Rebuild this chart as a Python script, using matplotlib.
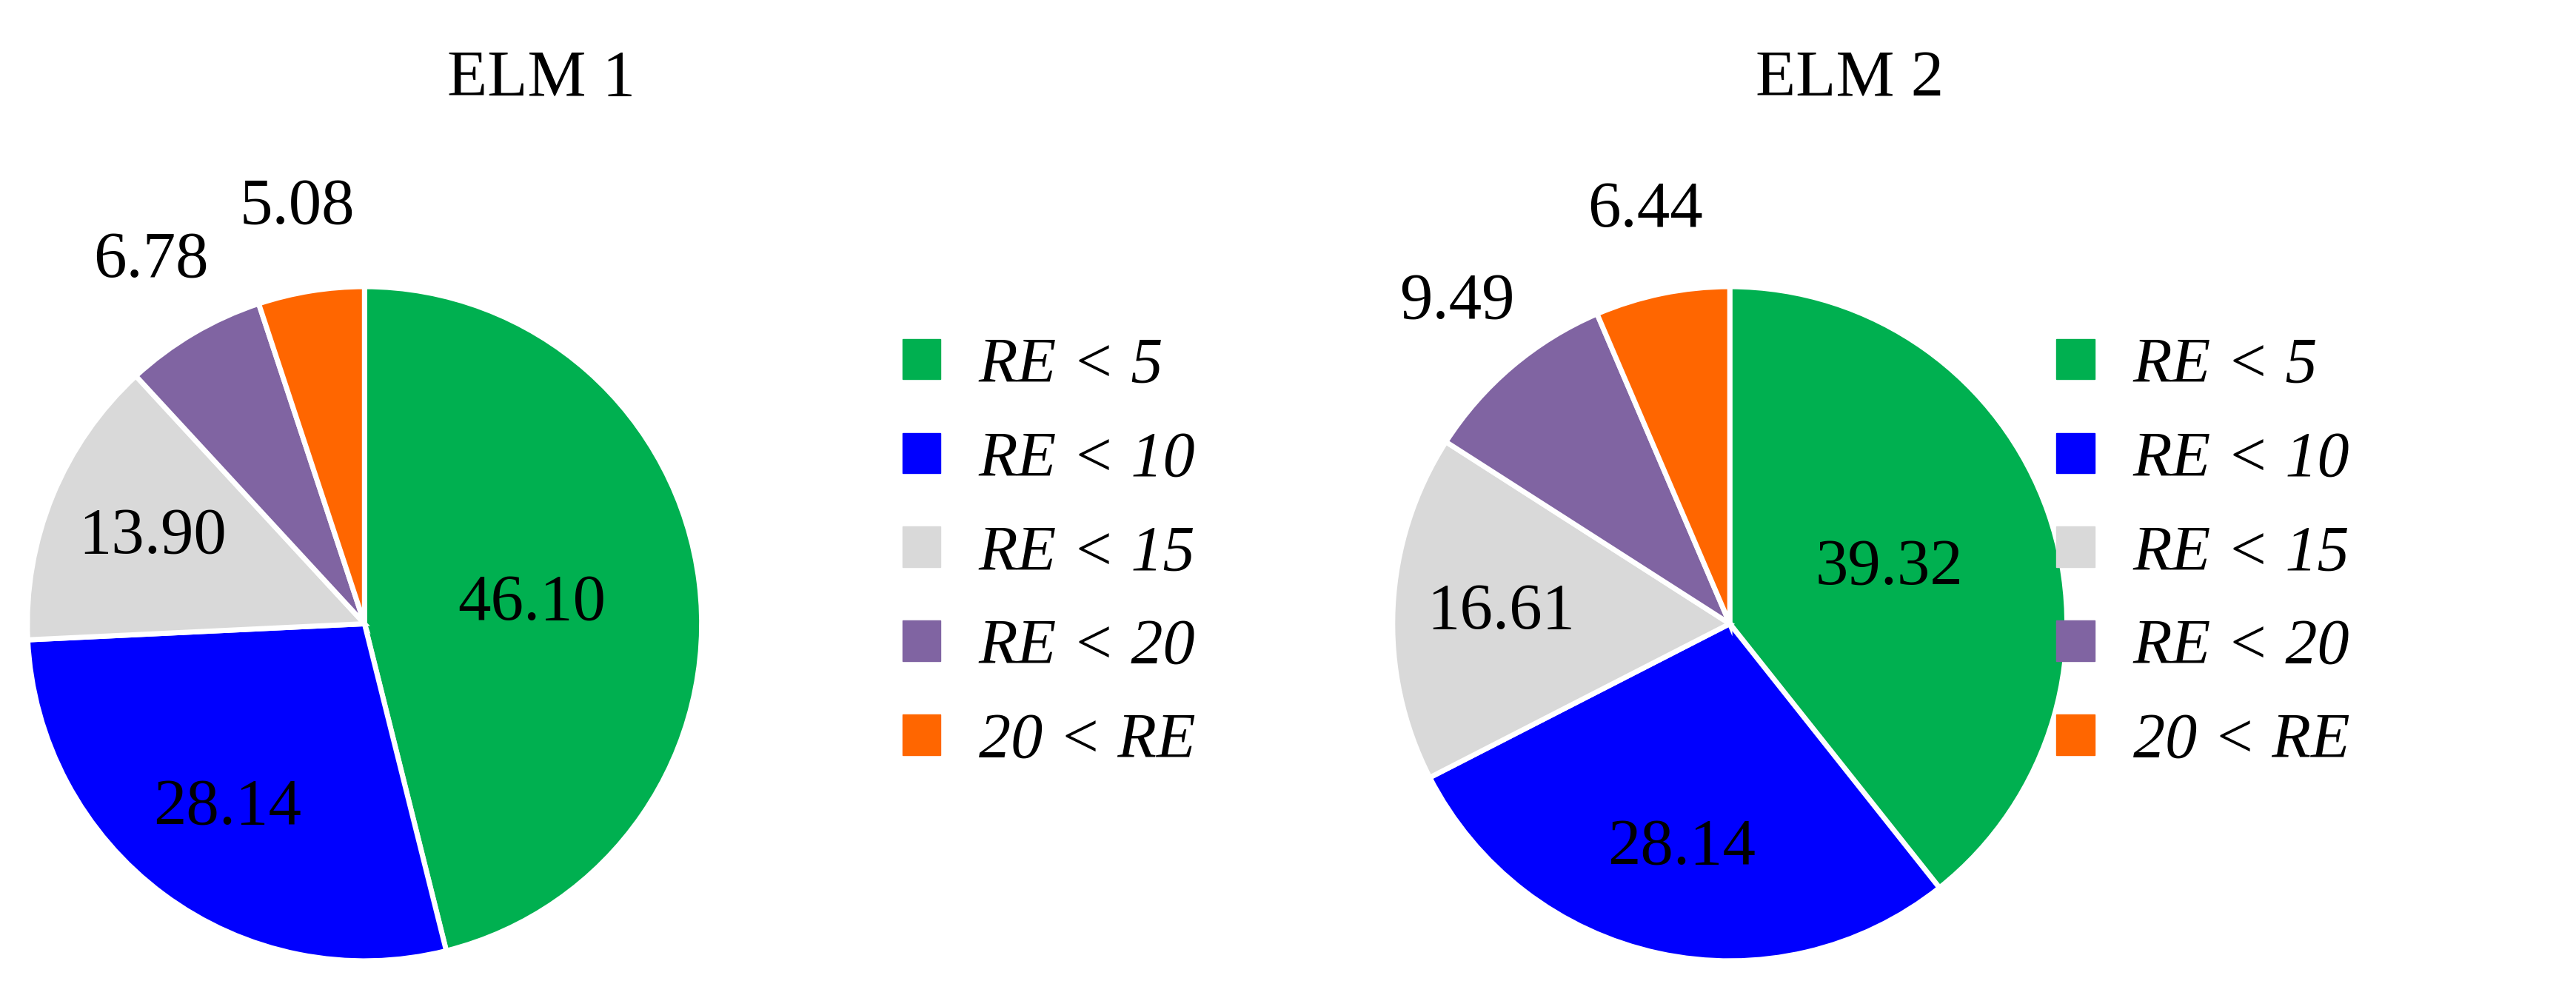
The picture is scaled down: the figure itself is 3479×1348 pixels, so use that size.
import matplotlib.pyplot as plt
import matplotlib.patches as mpatches
import numpy as np

plt.rcParams['font.family'] = ['Liberation Serif', 'DejaVu Serif']

categories = ['RE < 5', 'RE < 10', 'RE < 15', 'RE < 20', '20 < RE']
colors = ['#00B050', '#0000FF', '#D9D9D9', '#8064A2', '#FF6600']
elm1 = [46.10, 28.14, 13.90, 6.78, 5.08]
elm2 = [39.32, 28.14, 16.61, 9.49, 6.44]
titles = ['ELM 1', 'ELM 2']

fig = plt.figure(figsize=(34.79, 13.48), dpi=100)

def draw(ax, vals):
    wedges, _ = ax.pie(vals, colors=colors, startangle=90, counterclock=False,
                       wedgeprops=dict(edgecolor='white', linewidth=5))
    for w, v in zip(wedges, vals):
        ang = np.deg2rad((w.theta1 + w.theta2) / 2)
        if v > 30:
            r = 0.5
        elif v > 10:
            r = 0.68
        else:
            r = 1.25
        ax.text(r * np.cos(ang), r * np.sin(ang), f'{v:.2f}',
                ha='center', va='center', fontsize=64)
    ax.set_xlim(-1.02, 1.02)
    ax.set_ylim(-1.02, 1.02)
    ax.set_aspect('equal')

ax1 = fig.add_axes([0.008, 0.03, 0.267, 0.69])
draw(ax1, elm1)
ax2 = fig.add_axes([0.538, 0.03, 0.267, 0.69])
draw(ax2, elm2)
for a in (ax1, ax2):
    a.set_clip_on(False)
    for t in a.texts:
        t.set_clip_on(False)

fig.text(0.21, 0.92, titles[0], ha='center', va='center', fontsize=64)
fig.text(0.718, 0.92, titles[1], ha='center', va='center', fontsize=64)

handles = [mpatches.Patch(color=c, label=l) for c, l in zip(colors, categories)]
for x in (0.328, 0.776):
    fig.legend(handles=handles, loc='upper left', bbox_to_anchor=(x, 0.72),
               frameon=False, prop=dict(size=62, style='italic'),
               labelspacing=0.55, handlelength=0.6, handleheight=0.6,
               handletextpad=0.6)

fig.savefig('out.png', dpi=100)
